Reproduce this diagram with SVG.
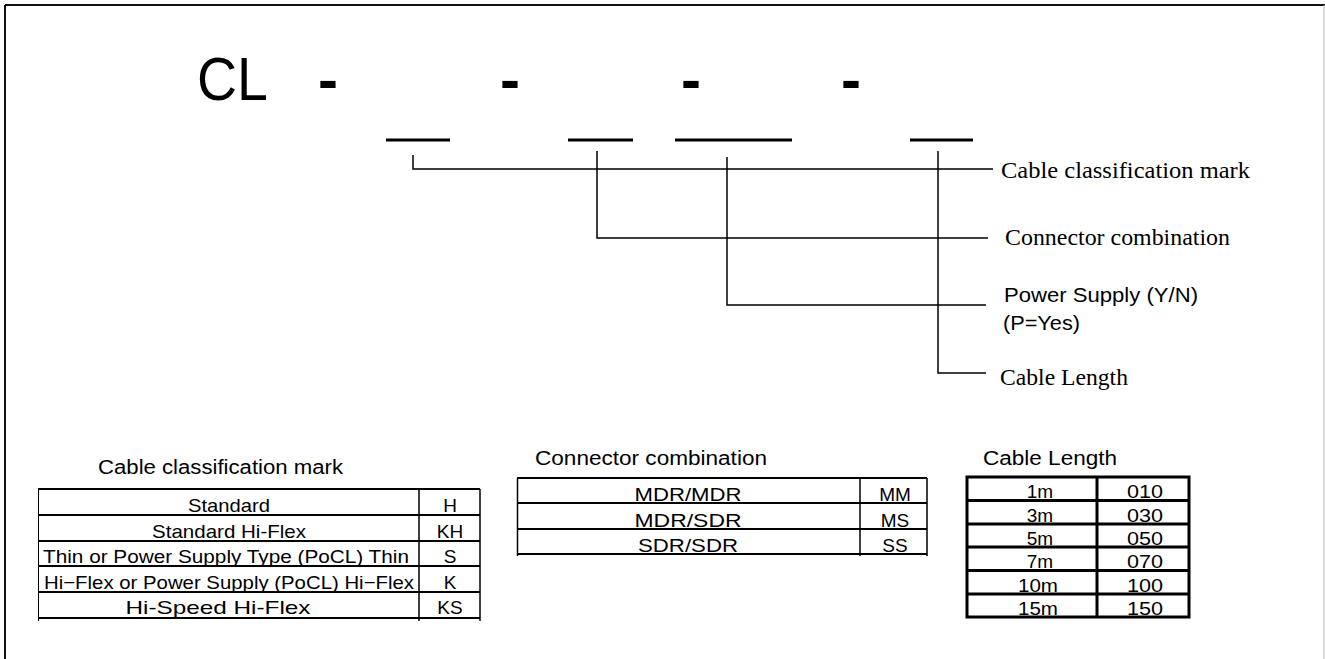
<svg xmlns="http://www.w3.org/2000/svg" width="1325" height="659" viewBox="0 0 1325 659">
<style>
.ln{stroke:#000;stroke-width:1.5;fill:none}
.ul{stroke:#000;stroke-width:3;fill:none}
.tb{stroke:#000;stroke-width:2;fill:none}
.tb3{stroke:#000;stroke-width:3;fill:none}
.serif{font-family:"Liberation Serif","Times New Roman",serif;font-size:23px;fill:#000}
.sans{font-family:"Liberation Sans",Arial,sans-serif;fill:#000}
.cell{font-family:"Liberation Sans",Arial,sans-serif;font-size:19px;fill:#000;text-anchor:middle}
.cell3{font-family:"Liberation Sans",Arial,sans-serif;font-size:19px;fill:#000;text-anchor:middle}
</style>
<rect x="0" y="0" width="1325" height="659" fill="#fff"/>
<g id="frame">
<line x1="5" y1="5" x2="1325" y2="5" stroke="#111" stroke-width="2"/>
<line x1="5" y1="5" x2="5" y2="659" stroke="#111" stroke-width="2"/>
<line x1="1324" y1="5" x2="1324" y2="659" stroke="#bbb" stroke-width="1"/>
</g>
<g id="code">
<text class="sans" x="197" y="100" font-size="62" textLength="71" lengthAdjust="spacingAndGlyphs">CL</text>
<text class="sans" x="318" y="100" font-size="60" font-weight="bold">-</text>
<text class="sans" x="500" y="100" font-size="60" font-weight="bold">-</text>
<text class="sans" x="681" y="100" font-size="60" font-weight="bold">-</text>
<text class="sans" x="841" y="100" font-size="60" font-weight="bold">-</text>
<line class="ul" x1="386" y1="140" x2="450" y2="140"/>
<line class="ul" x1="568" y1="140" x2="633" y2="140"/>
<line class="ul" x1="675" y1="140" x2="792" y2="140"/>
<line class="ul" x1="910" y1="140" x2="973" y2="140"/>
</g>
<g id="connectors">
<polyline class="ln" points="413,155 413,169 993,169"/>
<polyline class="ln" points="597,151 597,238 988,238"/>
<polyline class="ln" points="727,157 727,305 986,305"/>
<polyline class="ln" points="938,151 938,373 986,373"/>
</g>
<g id="label-classification"><text class="serif" x="1001" y="178" textLength="249" lengthAdjust="spacingAndGlyphs">Cable classification mark</text></g>
<g id="label-combination"><text class="serif" x="1005" y="245" textLength="225" lengthAdjust="spacingAndGlyphs">Connector combination</text></g>
<g id="label-power">
<text class="sans" x="1004" y="302" font-size="21" textLength="194" lengthAdjust="spacingAndGlyphs">Power Supply (Y/N)</text>
<text class="sans" x="1003" y="330" font-size="21" textLength="77" lengthAdjust="spacingAndGlyphs">(P=Yes)</text>
</g>
<g id="label-length"><text class="serif" x="1000" y="385" textLength="128" lengthAdjust="spacingAndGlyphs">Cable Length</text></g>

<g id="table-classification">
<text class="sans" x="98" y="474" font-size="20" textLength="245" lengthAdjust="spacingAndGlyphs">Cable classification mark</text>
<line class="tb" x1="38" y1="489" x2="480" y2="489"/>
<line class="tb" x1="38" y1="515" x2="480" y2="515"/>
<line class="tb" x1="38" y1="541" x2="480" y2="541"/>
<line class="tb" x1="38" y1="566" x2="480" y2="566"/>
<line class="tb" x1="38" y1="592" x2="480" y2="592"/>
<line class="tb" x1="38" y1="618" x2="480" y2="618"/>
<line x1="38.5" y1="489" x2="38.5" y2="621" stroke="#000" stroke-width="1"/>
<line x1="419" y1="489" x2="419" y2="621" stroke="#000" stroke-width="1.5"/>
<line x1="480" y1="489" x2="480" y2="621" stroke="#000" stroke-width="1.5"/>
<text class="cell" x="229" y="512" textLength="82" lengthAdjust="spacingAndGlyphs">Standard</text>
<text class="cell" x="450" y="512">H</text>
<text class="cell" x="229" y="538" textLength="154" lengthAdjust="spacingAndGlyphs">Standard Hi-Flex</text>
<text class="cell" x="450" y="538">KH</text>
<text class="cell" x="226" y="563" textLength="366" lengthAdjust="spacingAndGlyphs">Thin or Power Supply Type (PoCL) Thin</text>
<text class="cell" x="450" y="563">S</text>
<text class="cell" x="229" y="589" textLength="370" lengthAdjust="spacingAndGlyphs">Hi−Flex or Power Supply (PoCL) Hi−Flex</text>
<text class="cell" x="450" y="589">K</text>
<text class="cell" x="218" y="614" textLength="185" lengthAdjust="spacingAndGlyphs">Hi-Speed Hi-Flex</text>
<text class="cell" x="450" y="614">KS</text>
</g>

<g id="table-combination">
<text class="sans" x="535" y="465" font-size="20" textLength="232" lengthAdjust="spacingAndGlyphs">Connector combination</text>
<line class="tb" x1="517" y1="478" x2="927" y2="478"/>
<line class="tb" x1="517" y1="503" x2="927" y2="503"/>
<line class="tb" x1="517" y1="529" x2="927" y2="529"/>
<line class="tb" x1="517" y1="554" x2="927" y2="554"/>
<line x1="517.5" y1="478" x2="517.5" y2="556" stroke="#000" stroke-width="1.5"/>
<line x1="860" y1="478" x2="860" y2="556" stroke="#000" stroke-width="1.5"/>
<line x1="927" y1="478" x2="927" y2="556" stroke="#000" stroke-width="1.5"/>
<text class="cell" x="688" y="501" font-size="20" textLength="107" lengthAdjust="spacingAndGlyphs">MDR/MDR</text>
<text class="cell" x="895" y="501" font-size="20">MM</text>
<text class="cell" x="688" y="527" font-size="20" textLength="107" lengthAdjust="spacingAndGlyphs">MDR/SDR</text>
<text class="cell" x="895" y="527" font-size="20">MS</text>
<text class="cell" x="688" y="552" font-size="20" textLength="100" lengthAdjust="spacingAndGlyphs">SDR/SDR</text>
<text class="cell" x="895" y="552" font-size="20">SS</text>
</g>

<g id="table-length">
<text class="sans" x="983" y="465" font-size="20" textLength="134" lengthAdjust="spacingAndGlyphs">Cable Length</text>
<rect class="tb3" x="967" y="477" width="222" height="140"/>
<line class="tb3" x1="967" y1="500.5" x2="1189" y2="500.5"/>
<line class="tb3" x1="967" y1="524" x2="1189" y2="524"/>
<line class="tb3" x1="967" y1="547" x2="1189" y2="547"/>
<line class="tb3" x1="967" y1="570.5" x2="1189" y2="570.5"/>
<line class="tb3" x1="967" y1="594" x2="1189" y2="594"/>
<line class="tb3" x1="1097" y1="477" x2="1097" y2="617"/>
<text class="cell3" x="1040" y="498">1m</text>
<text class="cell3" x="1145" y="498" textLength="36" lengthAdjust="spacingAndGlyphs">010</text>
<text class="cell3" x="1040" y="522">3m</text>
<text class="cell3" x="1145" y="522" textLength="36" lengthAdjust="spacingAndGlyphs">030</text>
<text class="cell3" x="1040" y="545">5m</text>
<text class="cell3" x="1145" y="545" textLength="36" lengthAdjust="spacingAndGlyphs">050</text>
<text class="cell3" x="1040" y="568">7m</text>
<text class="cell3" x="1145" y="568" textLength="36" lengthAdjust="spacingAndGlyphs">070</text>
<text class="cell3" x="1038" y="592" textLength="40" lengthAdjust="spacingAndGlyphs">10m</text>
<text class="cell3" x="1145" y="592" textLength="36" lengthAdjust="spacingAndGlyphs">100</text>
<text class="cell3" x="1038" y="615" textLength="40" lengthAdjust="spacingAndGlyphs">15m</text>
<text class="cell3" x="1145" y="615" textLength="36" lengthAdjust="spacingAndGlyphs">150</text>
</g>
</svg>
